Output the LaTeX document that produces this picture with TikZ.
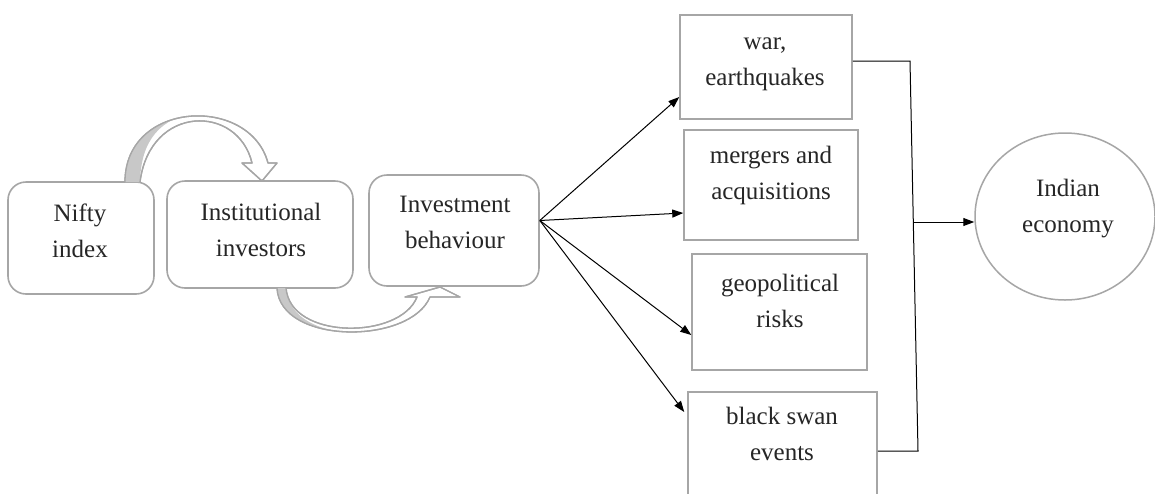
\documentclass[tikz,border=0pt]{standalone}
\usepackage{fontspec}
\setmainfont{Liberation Serif}
\usetikzlibrary{arrows.meta,shapes.geometric}
\definecolor{bordergray}{HTML}{A6A6A6}
\definecolor{legfill}{HTML}{C8C8C8}
\definecolor{txtcol}{HTML}{262626}
\begin{document}
\begin{tikzpicture}[x=1pt,y=-1pt,
  rbox/.style={draw=bordergray, line width=1.6pt, rounded corners=18pt, inner sep=0pt},
  sbox/.style={draw=bordergray, line width=1.5pt, inner sep=0pt},
  ebox/.style={draw=bordergray, line width=1.5pt, ellipse, inner sep=0pt},
  lbl/.style={align=center, text=txtcol, inner sep=0pt, font=\fontsize{25}{36}\selectfont},
  arr/.style={-{Triangle[length=11pt,width=8pt]}, line width=1pt, black},
  conn/.style={line width=1pt, black},
  blockarrow/.style={draw=bordergray, line width=1.3pt, fill=white, line join=round}
]
\clip (0,0) rectangle (1155,493);
\fill[white] (0,0) rectangle (1155,493);

% rounded boxes
\node[rbox, minimum width=146pt, minimum height=112pt] (nifty) at (81,238) {};
\node[rbox, minimum width=186pt, minimum height=107pt] (inst) at (260,234.5) {};
\node[rbox, minimum width=170pt, minimum height=111pt] (invb) at (454,230.5) {};

% rectangular boxes
\node[sbox, minimum width=172pt, minimum height=104pt] (war) at (766,67) {};
\node[sbox, minimum width=174pt, minimum height=110pt] (merg) at (771,185) {};
\node[sbox, minimum width=175pt, minimum height=116pt] (geo) at (779.5,312) {};
\node[sbox, minimum width=189pt, minimum height=108pt] (swan) at (782.5,446) {};

% ellipse
\node[ebox, minimum width=180pt, minimum height=167pt] (econ) at (1065,216.5) {};

% labels
\node[lbl] (niftyT) at (80,230.5) {Nifty\\index};
\node[lbl] (instT) at (261,229.5) {Institutional\\investors};
\node[lbl] (invbT) at (455,222.7) {Investment\\behaviour};
\node[lbl] (warT) at (765,64) {war,\\earthquakes};
\node[lbl] (mergT) at (771,175.2) {mergers and\\acquisitions};
\node[lbl] (geoT) at (780,300.5) {geopolitical\\risks};
\node[lbl] (swanT) at (782,433.5) {black swan\\events};
\node[lbl] (econT) at (1068,208.2) {Indian\\economy};

% curved block arrow: Nifty -> Institutional
\path[blockarrow] (125,182) .. controls (125,100) and (250,95) .. (268,163)
  -- (277,163) -- (262,181) -- (242,163) -- (252,163)
  .. controls (238,104) and (150,104) .. (140,182) -- cycle;
\begin{scope}
  \clip (125,182) .. controls (125,100) and (250,95) .. (268,163)
  -- (277,163) -- (262,181) -- (242,163) -- (252,163)
  .. controls (238,104) and (150,104) .. (140,182) -- cycle;
  \fill[legfill] (100,200) -- (140,182) .. controls (141,140) and (160,118) .. (198,112) -- (198,90) -- (100,90) -- cycle;
\end{scope}
\draw[draw=bordergray, line width=1.3pt, line join=round] (125,182) .. controls (125,100) and (250,95) .. (268,163)
  -- (277,163) -- (262,181) -- (242,163) -- (252,163)
  .. controls (238,104) and (150,104) .. (140,182);

% curved block arrow: Institutional -> Investment behaviour
\path[blockarrow] (277,288) .. controls (280,345) and (410,345) .. (430,297)
  -- (460,297) -- (440,287) -- (405,297) -- (417,297)
  .. controls (400,340) and (290,340) .. (286,288) -- cycle;
\begin{scope}
  \clip (277,288) .. controls (280,345) and (410,345) .. (430,297)
  -- (460,297) -- (440,287) -- (405,297) -- (417,297)
  .. controls (400,340) and (290,340) .. (286,288) -- cycle;
  \fill[legfill] (250,280) -- (286,286) .. controls (288,315) and (310,328) .. (350,334) -- (250,345) -- cycle;
\end{scope}
\draw[draw=bordergray, line width=1.3pt, line join=round] (277,288) .. controls (280,345) and (410,345) .. (430,297)
  -- (460,297) -- (440,287) -- (405,297) -- (417,297)
  .. controls (400,340) and (290,340) .. (286,288);

% fan of arrows
\coordinate (fan) at ([yshift=10pt]invb.east);
\draw[arr] (fan) -- ([yshift=-30pt]war.west);
\draw[arr] (fan) -- ([yshift=-28pt]merg.west);
\draw[arr] (fan) -- ([yshift=-23pt]geo.west);
\draw[arr] (fan) -- ([xshift=-3pt,yshift=34pt]swan.west);

% bracket
\coordinate (btop) at (910,61);
\coordinate (bbot) at (918,451);
\coordinate (bmid) at (914,222);
\draw[conn] ([yshift=6pt]war.east) -- (btop) -- (bbot) -- ([yshift=-5pt]swan.east);
\draw[arr] (bmid) -- (econ.west |- bmid);
\end{tikzpicture}
\end{document}
